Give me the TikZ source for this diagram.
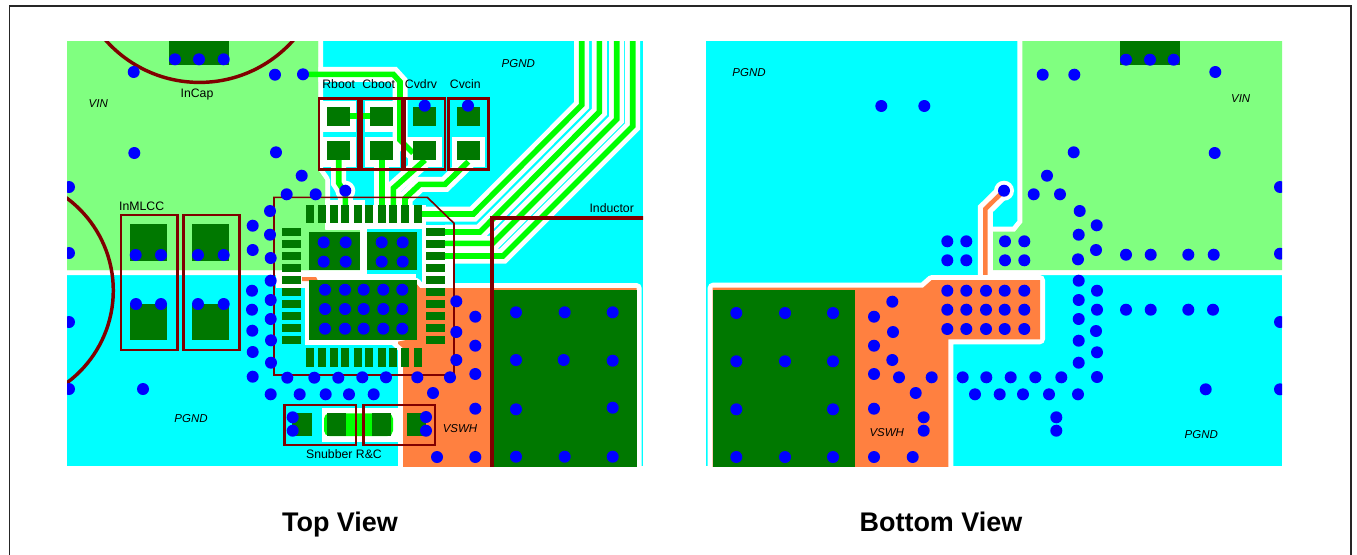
\documentclass[tikz,border=0pt]{standalone}
\usepackage{fontspec}
\setmainfont{Liberation Sans}
\definecolor{plane}{RGB}{128,255,128}
\definecolor{gnd}{RGB}{0,255,255}
\definecolor{padgreen}{RGB}{0,120,0}
\definecolor{tracegreen}{RGB}{0,255,0}
\definecolor{sw}{RGB}{255,128,64}
\definecolor{silk}{RGB}{128,0,0}
\tikzset{
	via/.style={fill={rgb,255:red,0;green,0;blue,255}},
	pad/.style={fill=padgreen},
	casing/.style={draw=white, line width=11.25pt, line join=miter},
	trace/.style={draw=tracegreen, line width=4.2pt, line join=miter},
	swtrace/.style={draw=sw, line width=3.4pt, line join=miter},
	outline/.style={draw=silk, line width=2.2pt},
	thinoutline/.style={draw=silk, line width=1.2pt},
	keepout/.style={preaction={draw=white, line width=7.5pt, line join=round}},
	netlabel/.style={font=\fontsize{8.6}{10}\selectfont\itshape, inner sep=0pt},
	partlabel/.style={font=\fontsize{9.2}{10}\selectfont, inner sep=0pt},
	viewlabel/.style={font=\fontsize{20.2}{22}\selectfont\bfseries, inner sep=0pt, anchor=base},
}
\begin{document}
\begin{tikzpicture}[x=0.75pt,y=-0.75pt]
	\useasboundingbox (0,0) rectangle (1357,554);
	\draw[line width=1.1pt, black!85] (9.3,560) -- (9.3,6) -- (1351,6) -- (1351,560);
	% top side
	\begin{scope}
		\clip (67,41) rectangle (643,466);
		\fill[gnd] (67,41) rectangle (643,466);
		\path[keepout, fill=plane] (40,20) -- (318,20) -- (318,170) -- (325,180) -- (325,230) -- (360,230) -- (360,270) -- (40,270) -- cycle;
		% long gate lines
		\foreach \xa/\ya/\xb/\yb/\xe in {581.7/105/473.3/214/421, 599.3/112/480/232/445, 616.7/119.3/492.7/243.3/445, 632.7/126.3/503/256/445}{
			\path[casing] (\xa,30) -- (\xa,\ya) -- (\xb,\yb) -- (\xe,\yb);
		}
		\path[casing] (303,74.3) -- (393.3,74.3) -- (400,81.7) -- (400,140) -- (413,153);
		\path[casing] (338.7,160) -- (338.7,183) -- (345.3,193) -- (345.3,205);
		\path[casing] (381.7,160) -- (381.7,205);
		\path[casing] (425,160) -- (393.3,188.3) -- (393.3,205);
		\path[casing] (468.3,161.7) -- (445,184.3) -- (420,184.3) -- (405,198.3) -- (405,205);
		\fill[white] (345.3,190.7) circle (10);
		% plane again over the casings
		\fill[plane] (40,20) -- (318,20) -- (318,170) -- (325,180) -- (325,230) -- (360,230) -- (360,270) -- (40,270) -- cycle;
		\path[keepout, fill=sw] (636.7,288) -- (420,288) -- (416,283) -- (416,338) -- (396,342) -- (403,348) -- (403,480) -- (636.7,480) -- cycle;
		% white round the package
		\fill[white] (325,200) rectangle (365,229);
		\fill[white] (365,205) rectangle (426,229);
		\fill[white] (421.7,225) rectangle (453,288);
		\fill[gnd] (366.7,229) rectangle (421.7,273);
		\fill[white] (276,272) rectangle (305,288);
		\fill[white] (305,274) rectangle (416,340);
		\fill[white] (305,340) rectangle (398,345);
		\fill[white] (360,229) rectangle (366.7,274);
		\fill[sw] (302,277) -- (316,277) -- (318,281) -- (302,281) -- cycle;
		% white round the small parts
		\foreach \xa/\xb in {323.3/356, 365/400}{
			\fill[white] (\xa,101) rectangle (\xb,131.7);
			\fill[white] (\xa,136.7) rectangle (\xb,166.7);
		}
		\fill[white] (408,136.7) rectangle (441.7,166.7);
		\fill[white] (451.7,136.7) rectangle (485,166.7);
		\fill[white] (322,408) rectangle (403,442);
		% copper lines
		\foreach \xa/\ya/\xb/\yb/\xe in {581.7/105/473.3/214/421, 599.3/112/480/232/445, 616.7/119.3/492.7/243.3/445, 632.7/126.3/503/256/445}{
			\path[trace] (\xa,30) -- (\xa,\ya) -- (\xb,\yb) -- (\xe,\yb);
		}
		\path[trace] (303,74.3) -- (393.3,74.3) -- (400,81.7) -- (400,140) -- (413,153);
		\path[trace] (338.7,160) -- (338.7,183) -- (345.3,193) -- (345.3,205);
		\path[trace] (381.7,160) -- (381.7,205);
		\path[trace] (425,160) -- (393.3,188.3) -- (393.3,205);
		\path[trace] (468.3,161.7) -- (445,184.3) -- (420,184.3) -- (405,198.3) -- (405,205);
		\path[trace] (350,116) -- (370,116);
		\fill[tracegreen, rounded corners=4pt] (324,413.3) rectangle (393,436);
		% pads
		\fill[pad] (169.3,30) rectangle (229.3,65.3);
		\foreach \xa/\xb in {130/167.3, 192.3/229.3}{
			\fill[pad] (\xa,224.3) rectangle (\xb,261);
			\fill[pad] (\xa,304) rectangle (\xb,340);
		}
		\foreach \xa/\xb in {326.7/350, 370/393.3, 413/436, 456.7/480}{
			\fill[pad] (\xa,106.7) rectangle (\xb,126);
			\fill[pad] (\xa,141) rectangle (\xb,160);
		}
		\foreach \xa/\xb in {292/312.3, 326.7/346, 372.3/391, 406.7/426}{
			\fill[pad] (\xa,413.3) rectangle (\xb,436);
		}
		\fill[pad] (309.3,232.3) rectangle (360,270);
		\fill[pad] (367.3,232.3) rectangle (416.7,270);
		\fill[pad] (309.3,280) rectangle (417.3,340);
		\fill[pad] (494,290) rectangle (636.7,480);
		\foreach \x in {309.7,321.7,333.7,345.3,357.7,369.3,381.7,393.3,405.3,417.7}{
			\fill[pad] (\x-4,204.7) rectangle (\x+4,223.3);
			\fill[pad] (\x-4,348) rectangle (\x+4,367.3);
		}
		\foreach \y in {231.7,243.7,255.7,267.7,279.7,291.7,303.7,315.7,327.7,339.7}{
			\fill[pad] (282,\y-3.9) rectangle (301,\y+3.9);
			\fill[pad] (426,\y-3.9) rectangle (445,\y+3.9);
		}
		% outlines
		\draw[outline, line width=2.6pt] (199.5,-43) circle (125.4);
		\draw[outline, line width=2.6pt] (-1.7,290.5) circle (115);
		\draw[outline] (121,215) rectangle (177.3,350);
		\draw[outline] (183.3,215) rectangle (239.3,350);
		\draw[outline] (319,98.3) rectangle (358.3,169.3);
		\draw[outline] (361.7,98.3) rectangle (402.7,169.3);
		\draw[outline] (405,98.3) rectangle (445,169.3);
		\draw[outline] (448.3,98.3) rectangle (488.3,169.3);
		\draw[outline] (284.3,405) rectangle (356,445);
		\draw[outline] (363.3,405) rectangle (435,445);
		\draw[thinoutline] (274,197.3) -- (427.3,197.3) -- (454,223.3) -- (454,375) -- (274,375) -- cycle;
		\draw[outline, line width=3pt] (492,480) -- (492,217.7) -- (660,217.7);
		% vias
		\foreach \x/\y in {175/59.3,199/59.3,223.7/59.3,133.7/72,275/74.7,303/74.3,134.3/153,276/152.3,301.7/175.7,69/187,
			286.7/194.3,315.7/194.3,345.3/190.7,270/211,252.7/225.7,270/234.7,252.7/250,270.7/258,135.7/255,161/255,198/255,223.7/255,69/253,
			270.7/280.7,252/290.7,270.7/300,252/309.7,270.7/319,252.3/330.7,271/340.3,252.7/352,271/362.7,252.7/376.7,
			287.3/377.7,314.3/377.7,338.3/377.7,362.3/377.3,386/377.3,417.3/377.3,450/377.3,
			270.7/394.3,299.7/394.3,325.7/394.3,349/394.3,373.7/394.3,433/393,
			292.7/417.3,292.7/430.7,426/417,426/430.7,136/304,161/304,198/304,223.7/304,69/322,69/389,143/389,
			424.7/105.7,468/105.7,323.7/242.3,345.7/242.3,323.7/261.7,345.7/261.7,381.7/242.3,402.7/242.3,381.7/261.7,402.7/261.7,
			456.3/301.3,475.3/316.7,456.3/332,475.3/345.7,456.3/360,475.3/374,475.3/408.7,437/457,475.3/457,
			516/312.3,564.7/312.3,612.7/312.3,516/360,563.7/360,612.7/360.7,516/409.3,612.7/407.7,516/456.7,564.7/456.7,612.7/456.7}{
			\fill[via] (\x,\y) circle (6);
		}
		\foreach \x in {325,345,363.7,383.3,402.3}{
			\foreach \y in {289.7,309,328.7}{
				\fill[via] (\x,\y) circle (6);
			}
		}
	\end{scope}
	% bottom side
	\begin{scope}
		\clip (706,41) rectangle (1282,466);
		\fill[gnd] (706,41) rectangle (1282,466);
		\path[keepout, fill=plane] (1022.3,20) -- (1022.3,222.7) -- (1015,231.7) -- (992.7,231.7) -- (992.7,270) -- (1300,270) -- (1300,20) -- cycle;
		\path[casing] (985.3,285) -- (985.3,209) -- (1004,190.7);
		\fill[white] (1004,190.7) circle (10);
		\path[swtrace] (985.3,285) -- (985.3,209) -- (1004,190.7);
		\path[keepout, fill=sw] (712.7,480) -- (712.7,287.7) -- (923,287.7) -- (931.7,280) -- (1040,280) -- (1040,339.3) -- (948.3,339.3) -- (948.3,480) -- cycle;
		\fill[pad] (712.7,290) rectangle (855,480);
		\fill[pad] (1120,30) rectangle (1180,65.3);
		\foreach \x/\y in {881.3/106,924.3/106,947.3/241.3,966.3/241.3,947.3/260.3,966.3/260.3,
			1126/59.7,1150/59.7,1173.7/59.7,1042.7/74.7,1074.3/74.7,1215.3/72,1073.7/152.3,1214.7/153,1047/175.7,1033.7/194.3,1060/194.3,1004/190.7,
			1079.7/211,1096.7/225.3,1078.7/234.7,1096/250,1078/259.3,1005/241.3,1024.3/241.3,1005/260.3,1024.3/260.3,
			1126/254.7,1150.7/254.7,1188.3/254.7,1213.7/254.7,1280/187,1280/253.7,
			1078.7/280.7,1097/290.7,1078.7/300,1097/309.7,1078.7/319,1096/331,1078.7/340.7,1097/352.3,1078.7/362.7,1097/377,
			1126/309.7,1150.7/309.7,1188.3/309.7,1213/309.7,1280/322,1280/389.3,1205.7/389.3,
			962.7/377.3,986.3/377.3,1010.7/377.3,1035.3/377.3,1061.3/377.3,975/394.3,999.7/394.3,1023/394.3,1049/394.3,1078/394.3,1056.3/417.3,1056.3/430.7,
			892.3/301.7,874/316.7,893/332,874/345.7,892.3/360,874/374,899/377.3,931.7/377.3,915.7/393,923.7/417.3,923.7/430.7,874/408.7,874/457,912.7/457,
			736.3/313,785/313,833/313,736.3/361.3,785/361.3,833/361.3,736.3/409.3,833/409.3,736.3/457,785/457,833/457}{
			\fill[via] (\x,\y) circle (6);
		}
		\foreach \x in {947.3,966.3,986,1004.7,1024.3}{
			\foreach \y in {290.7,309.7,329}{
				\fill[via] (\x,\y) circle (6);
			}
		}
	\end{scope}
	% labels
	\node[netlabel] (vintop) at (98.3,104) {VIN};
	\node[netlabel] (pgndtopa) at (518.3,63.3) {PGND};
	\node[netlabel] (pgndtopb) at (191,419) {PGND};
	\node[netlabel] (vswhtop) at (460,428.3) {VSWH};
	\node[partlabel] (incap) at (197,94) {InCap};
	\node[partlabel] (inmlcc) at (141.7,206.7) {InMLCC};
	\node[partlabel] (rboot) at (338.7,84) {Rboot};
	\node[partlabel] (cboot) at (378.7,84) {Cboot};
	\node[partlabel] (cvdrv) at (421,84) {Cvdrv};
	\node[partlabel] (cvcin) at (465.3,84) {Cvcin};
	\node[partlabel] (inductor) at (611.7,208.3) {Inductor};
	\node[partlabel] (snubber) at (344,454) {Snubber R\&C};
	\node[netlabel] (pgndbota) at (749,72.3) {PGND};
	\node[netlabel] (vinbot) at (1240.7,98.3) {VIN};
	\node[netlabel] (vswhbot) at (886.7,432.7) {VSWH};
	\node[netlabel] (pgndbotb) at (1201.3,435) {PGND};
	\node[viewlabel] (topview) at (340,531) {Top View};
	\node[viewlabel] (botview) at (941,531) {Bottom View};
\end{tikzpicture}
\end{document}
